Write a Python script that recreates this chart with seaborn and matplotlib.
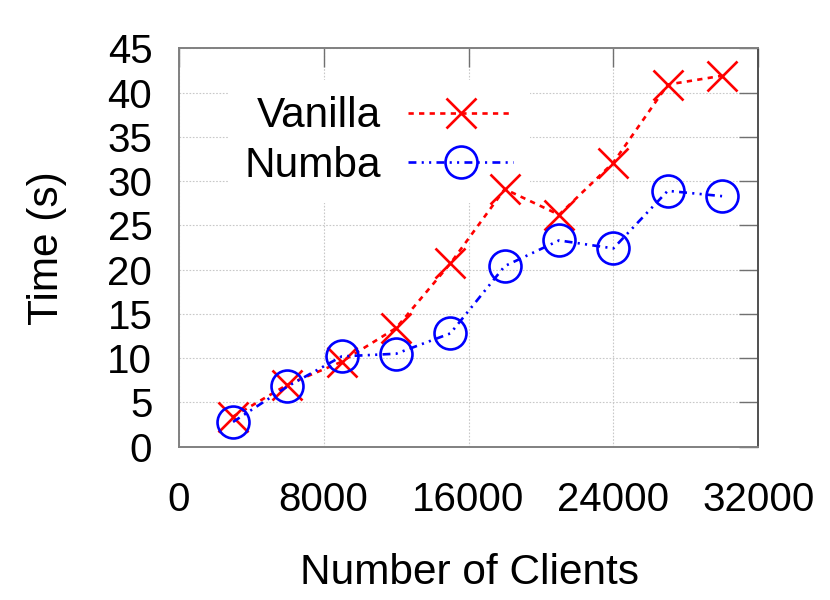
import matplotlib
matplotlib.use("Agg")
import matplotlib.pyplot as plt
import seaborn as sns
import pandas as pd

clients = [3000, 6000, 9000, 12000, 15000, 18000, 21000, 24000, 27000, 30000]
vanilla = [3.4, 7.0, 9.6, 13.4, 20.7, 29.1, 26.2, 32.1, 40.9, 41.9]
numba = [2.8, 6.8, 10.2, 10.5, 12.8, 20.4, 23.3, 22.4, 28.9, 28.3]
x_ticks = [0, 8000, 16000, 24000, 32000]
y_ticks = [0, 5, 10, 15, 20, 25, 30, 35, 40, 45]

sns.set_style("white")
plt.rcParams['font.family'] = ['Liberation Sans', 'DejaVu Sans']
plt.rcParams['text.color'] = 'black'
plt.rcParams['axes.labelcolor'] = 'black'
plt.rcParams['xtick.color'] = 'black'
plt.rcParams['ytick.color'] = 'black'

df_v = pd.DataFrame({"Number of Clients": clients, "Time (s)": vanilla})
df_n = pd.DataFrame({"Number of Clients": clients, "Time (s)": numba})

fig = plt.figure(figsize=(8.3, 6), dpi=100)
ax = fig.add_axes([178.7 / 830, (600 - 446.7) / 600, (758.3 - 178.7) / 830, (446.7 - 48.3) / 600])

sns.lineplot(data=df_v, x="Number of Clients", y="Time (s)", ax=ax, color="#ff0000",
             marker="x", markersize=22, markeredgewidth=1.9, markeredgecolor="#ff0000",
             linewidth=1.9, linestyle=(0, (2, 2)), label="Vanilla", zorder=3)
sns.lineplot(data=df_n, x="Number of Clients", y="Time (s)", ax=ax, color="#0000ff",
             marker="o", markersize=23, markeredgewidth=1.9, markerfacecolor="none",
             markeredgecolor="#0000ff", linewidth=1.9,
             linestyle=(0, (3, 2, 0.8, 2, 0.8, 2)), label="Numba", zorder=3)

ax.set_xlim(0, 32000)
ax.set_ylim(0, 45)
ax.set_xticks(x_ticks)
ax.set_yticks(y_ticks)
ax.set_xticklabels([str(t) for t in x_ticks])
ax.set_yticklabels([str(t) for t in y_ticks])

ax.set_axisbelow(True)
ax.grid(True, linestyle=(0, (1.5, 1.5)), color="#c8c8c8", linewidth=0.8)
for s in ax.spines.values():
    s.set_color("#808080")
    s.set_linewidth(1.4)
ax.spines["right"].set_color("#505050")

ax.tick_params(axis="both", direction="in", length=14, width=1.0, color="#707070",
               labelcolor="black", labelsize=29, top=True, right=True)
ax.tick_params(axis="x", pad=25)
ax.tick_params(axis="y", pad=19)

ax.set_xlabel("Number of Clients", fontsize=30.5, color="black")
ax.set_ylabel("Time (s)", fontsize=30.5, color="black")
ax.xaxis.label.set_va("baseline")
ax.xaxis.set_label_coords(0.502, (446.7 - 584) / 398.4)
ax.yaxis.label.set_rotation_mode("anchor")
ax.yaxis.label.set_ha("center")
ax.yaxis.label.set_va("baseline")
ax.yaxis.set_label_coords((58.3 - 178.7) / 579.6, 0.4987)

leg = ax.legend(loc="center", bbox_to_anchor=(0.3456, 0.767), markerfirst=False,
                fontsize=30.5, handlelength=2.48, handletextpad=0.64, labelspacing=0.22,
                frameon=True, fancybox=False, borderpad=0.4)
leg.get_frame().set_edgecolor("none")
leg.get_frame().set_facecolor("white")
leg.get_frame().set_alpha(1.0)
leg.set_zorder(2)
for t in leg.get_texts():
    t.set_color("black")

fig.savefig("out.png", dpi=100)
